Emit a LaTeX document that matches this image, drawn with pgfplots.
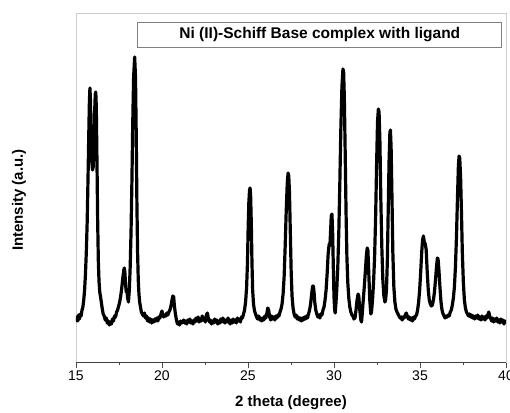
\documentclass[border=0pt]{standalone}
\usepackage{fontspec}
\setmainfont{Liberation Sans}
\usepackage{pgfplots}
\pgfplotsset{compat=1.18}
\usetikzlibrary{calc}
\definecolor{framegray}{HTML}{CFCFCF}
\definecolor{boxgray}{HTML}{808080}

\begin{document}
\begin{tikzpicture}
\begin{axis}[
  name=ax,
  scale only axis,
  width=430pt,height=349pt,
  xmin=15,xmax=40,ymin=0,ymax=349,
  xtick={15,20,...,40},minor x tick num=1,
  ytick=\empty,
  xtick pos=bottom,tick align=outside,
  major tick length=6pt,minor tick length=3pt,
  tick style={black!70,line width=0.7pt},
  axis line style={framegray,line width=0.8pt},
  /pgf/number format/assume math mode=true,
  ticklabel style={font=\fontsize{14}{16}\selectfont},
  xticklabel style={yshift=1pt},
  xlabel={\textbf{2 theta (degree)}},
  ylabel={\textbf{Intensity (a.u.)}},
  every axis x label/.style={at={(axis description cs:0.5,-0.1175)},anchor=center,font=\fontsize{15}{17}\selectfont},
  every axis y label/.style={at={(axis description cs:-0.1326,0.464)},rotate=90,anchor=center,font=\fontsize{15}{17}\selectfont},
]
\addplot[black,line width=3.2pt,line join=round] coordinates {
(15.00,40) (15.05,45) (15.10,41) (15.15,47) (15.20,43) (15.25,48) (15.30,46) (15.35,52)
(15.40,55) (15.45,62) (15.50,72) (15.55,88) (15.60,110) (15.65,140) (15.70,185) (15.74,225)
(15.78,262) (15.81,274) (15.84,262) (15.88,225) (15.92,200) (15.96,192) (16.00,195) (16.04,215)
(16.08,248) (16.12,268) (16.15,270) (16.18,255) (16.22,200) (16.26,140) (16.30,100) (16.34,80)
(16.38,70) (16.42,66) (16.47,60) (16.52,54) (16.58,48) (16.64,46) (16.70,42) (16.76,44)
(16.82,39) (16.88,41) (16.94,37) (17.00,40) (17.06,38) (17.12,43) (17.18,41) (17.24,46)
(17.30,45) (17.36,50) (17.42,52) (17.48,56) (17.54,60) (17.60,66) (17.66,74) (17.72,84)
(17.78,92) (17.81,94) (17.84,90) (17.88,78) (17.92,70) (17.96,72) (18.00,64) (18.05,60)
(18.10,72) (18.15,95) (18.20,130) (18.25,180) (18.30,240) (18.35,285) (18.41,305) (18.46,285)
(18.50,230) (18.54,160) (18.58,110) (18.62,82) (18.66,68) (18.70,60) (18.75,55) (18.80,50)
(18.86,48) (18.92,46) (18.98,49) (19.04,44) (19.10,46) (19.16,41) (19.22,44) (19.28,40)
(19.34,43) (19.40,39) (19.46,42) (19.52,40) (19.58,43) (19.64,41) (19.70,44) (19.76,41)
(19.82,45) (19.88,44) (19.94,48) (20.00,51) (20.05,47) (20.10,45) (20.16,47) (20.22,46)
(20.28,49) (20.34,47) (20.40,50) (20.46,52) (20.52,56) (20.58,62) (20.63,66) (20.68,65)
(20.72,56) (20.78,48) (20.84,42) (20.90,38) (20.96,40) (21.02,37) (21.08,41) (21.14,39)
(21.20,40) (21.26,42) (21.32,39) (21.38,41) (21.44,38) (21.50,42) (21.56,40) (21.62,43)
(21.68,39) (21.74,41) (21.80,38) (21.86,42) (21.92,40) (21.98,44) (22.04,41) (22.10,45)
(22.16,40) (22.22,43) (22.28,41) (22.34,46) (22.40,42) (22.46,44) (22.52,40) (22.58,47)
(22.64,49) (22.70,43) (22.76,40) (22.82,42) (22.88,38) (22.94,41) (23.00,39) (23.06,43)
(23.12,40) (23.18,42) (23.24,38) (23.30,41) (23.36,39) (23.42,43) (23.48,40) (23.54,44)
(23.60,41) (23.66,39) (23.72,42) (23.78,40) (23.84,44) (23.90,41) (23.96,38) (24.02,42)
(24.08,39) (24.14,43) (24.20,40) (24.26,42) (24.32,39) (24.38,44) (24.44,41) (24.50,43)
(24.56,40) (24.62,45) (24.68,44) (24.74,48) (24.80,52) (24.86,60) (24.92,75) (24.97,100)
(25.01,135) (25.05,160) (25.09,172) (25.12,174) (25.15,168) (25.19,140) (25.23,100) (25.27,72)
(25.32,58) (25.38,51) (25.44,48) (25.50,45) (25.56,43) (25.62,46) (25.68,42) (25.74,44)
(25.80,41) (25.86,44) (25.92,42) (25.98,46) (26.04,44) (26.10,49) (26.15,54) (26.20,52)
(26.26,45) (26.32,42) (26.38,46) (26.44,43) (26.50,45) (26.56,42) (26.62,46) (26.68,44)
(26.74,47) (26.80,46) (26.86,50) (26.92,53) (26.98,58) (27.04,68) (27.10,85) (27.16,115)
(27.22,150) (27.28,178) (27.33,189) (27.37,186) (27.41,170) (27.46,130) (27.51,90) (27.56,66)
(27.62,54) (27.68,48) (27.74,45) (27.80,47) (27.86,43) (27.92,45) (27.98,42) (28.04,44)
(28.10,41) (28.16,44) (28.22,42) (28.28,45) (28.34,43) (28.40,46) (28.46,44) (28.52,48)
(28.58,52) (28.64,58) (28.70,68) (28.76,76) (28.80,76) (28.84,70) (28.88,60) (28.94,52)
(29.00,48) (29.06,45) (29.12,47) (29.18,44) (29.24,48) (29.30,47) (29.36,52) (29.42,55)
(29.48,62) (29.54,72) (29.60,88) (29.66,108) (29.72,118) (29.76,116) (29.80,130) (29.84,146)
(29.88,148) (29.92,130) (29.96,95) (30.00,65) (30.04,52) (30.07,49) (30.11,58) (30.16,72)
(30.22,95) (30.28,130) (30.34,180) (30.40,235) (30.46,275) (30.52,293) (30.56,290) (30.60,265)
(30.65,210) (30.70,150) (30.75,105) (30.80,80) (30.86,64) (30.92,55) (30.98,50) (31.04,47)
(31.10,46) (31.16,43) (31.22,44) (31.28,52) (31.34,62) (31.40,68) (31.44,66) (31.50,52)
(31.56,42) (31.60,40) (31.64,48) (31.70,62) (31.76,75) (31.82,90) (31.88,106) (31.93,114)
(31.97,112) (32.02,90) (32.08,62) (32.14,48) (32.18,50) (32.24,62) (32.30,80) (32.36,105)
(32.42,145) (32.48,200) (32.53,240) (32.58,253) (32.62,250) (32.67,220) (32.72,165) (32.78,115)
(32.84,82) (32.90,66) (32.96,60) (33.00,62) (33.05,72) (33.10,100) (33.15,150) (33.20,200)
(33.25,230) (33.28,232) (33.32,215) (33.37,165) (33.42,110) (33.48,75) (33.54,60) (33.60,53)
(33.66,50) (33.72,48) (33.78,46) (33.84,44) (33.90,45) (33.96,42) (34.02,45) (34.08,44)
(34.14,47) (34.20,49) (34.26,46) (34.32,43) (34.38,45) (34.44,42) (34.50,44) (34.56,41)
(34.62,45) (34.68,43) (34.74,46) (34.80,47) (34.86,52) (34.92,60) (34.98,72) (35.04,90)
(35.10,110) (35.15,122) (35.20,126) (35.25,120) (35.31,118) (35.36,112) (35.42,90) (35.48,72)
(35.54,62) (35.60,58) (35.66,56) (35.72,57) (35.78,62) (35.84,70) (35.90,82) (35.96,95)
(36.01,104) (36.05,103) (36.10,92) (36.16,75) (36.22,60) (36.28,52) (36.34,48) (36.40,46)
(36.46,44) (36.52,46) (36.58,45) (36.64,47) (36.70,46) (36.76,50) (36.82,52) (36.88,57)
(36.94,64) (37.00,75) (37.06,95) (37.12,125) (37.18,165) (37.23,195) (37.27,206) (37.31,204)
(37.36,185) (37.41,150) (37.46,110) (37.52,80) (37.58,62) (37.64,54) (37.70,50) (37.76,48)
(37.82,46) (37.88,48) (37.94,45) (38.00,47) (38.06,44) (38.12,46) (38.18,43) (38.24,46)
(38.30,44) (38.36,47) (38.42,43) (38.48,45) (38.54,42) (38.60,46) (38.66,43) (38.72,45)
(38.78,42) (38.84,46) (38.90,44) (38.96,48) (39.00,50) (39.05,46) (39.10,44) (39.16,41)
(39.22,44) (39.28,40) (39.34,43) (39.40,41) (39.46,44) (39.52,40) (39.58,42) (39.64,39)
(39.70,43) (39.76,40) (39.82,42) (39.88,38) (39.94,41) (40.00,39)
};
\draw[black!75,line width=0.8pt] (rel axis cs:0,0) -- (rel axis cs:1,0);
\node[draw=boxgray,fill=white,line width=0.8pt,minimum width=364pt,minimum height=25pt,
  font=\fontsize{15.5}{18}\selectfont\bfseries,inner sep=0pt]
  at (axis description cs:0.567,0.938) {Ni (II)-Schiff Base complex with ligand};
\end{axis}
\pgfresetboundingbox
\path ($(ax.south west)+(-76pt,-50pt)$) rectangle ($(ax.north east)+(4pt,13pt)$);
\end{tikzpicture}
\end{document}
